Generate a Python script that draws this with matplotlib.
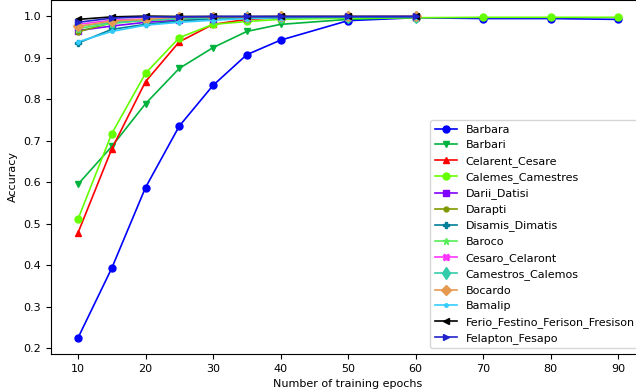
import matplotlib
matplotlib.use('Agg')
import matplotlib.pyplot as plt

plt.rcParams['font.size'] = 8

epochs_full = [10, 15, 20, 25, 30, 35, 40, 50, 60, 70, 80, 90]
epochs_short = [10, 15, 20, 25, 30, 35, 40, 50, 60]

barbara = [0.225, 0.393, 0.587, 0.735, 0.833, 0.907, 0.942, 0.989, 0.996, 0.994, 0.994, 0.992]
barbari = [0.595, 0.686, 0.789, 0.874, 0.924, 0.963, 0.980, 0.992, 0.997]
celarent_cesare = [0.478, 0.680, 0.842, 0.938, 0.980, 0.992, 0.996, 0.997, 0.998]
calemes_camestres = [0.511, 0.717, 0.862, 0.948, 0.980, 0.987, 0.992, 0.995, 0.996, 0.997, 0.997, 0.997]
darii_datisi = [0.965, 0.976, 0.985, 0.990, 0.994, 0.996, 0.997, 0.998, 0.998]
darapti = [0.962, 0.984, 0.990, 0.993, 0.995, 0.996, 0.997, 0.998, 0.998]
disamis_dimatis = [0.935, 0.968, 0.980, 0.988, 0.994, 0.996, 0.997, 0.998, 0.998]
baroco = [0.970, 0.982, 0.990, 0.994, 0.996, 0.997, 0.998, 0.998, 0.998]
cesaro_celaront = [0.980, 0.990, 0.993, 0.996, 0.997, 0.998, 0.998, 0.998, 0.999]
camestros_calemos = [0.975, 0.985, 0.990, 0.994, 0.996, 0.997, 0.998, 0.998, 0.998]
bocardo = [0.975, 0.988, 0.992, 0.998, 0.998, 0.998, 0.999, 0.999, 0.999]
bamalip = [0.938, 0.963, 0.978, 0.985, 0.990, 0.994, 0.996, 0.997, 0.998]
ferio = [0.992, 0.998, 1.000, 0.999, 0.999, 0.999, 0.999, 0.999, 0.999]
felapton = [0.985, 0.995, 0.998, 0.998, 0.999, 0.999, 0.999, 0.999, 0.999]

series = [
    ('Barbara', epochs_full, barbara, 'blue', 'o', 5),
    ('Barbari', epochs_short, barbari, '#00b33c', 'v', 5),
    ('Celarent_Cesare', epochs_short, celarent_cesare, 'red', '^', 5),
    ('Calemes_Camestres', epochs_full, calemes_camestres, '#66ff00', 'o', 5),
    ('Darii_Datisi', epochs_short, darii_datisi, '#8000ff', 's', 5),
    ('Darapti', epochs_short, darapti, '#809900', 'o', 3.5),
    ('Disamis_Dimatis', epochs_short, disamis_dimatis, '#007f99', 'P', 5),
    ('Baroco', epochs_short, baroco, '#55ee55', '*', 4.5),
    ('Cesaro_Celaront', epochs_short, cesaro_celaront, '#ff33ff', 'X', 5),
    ('Camestros_Calemos', epochs_short, camestros_calemos, '#33ccaa', 'd', 6),
    ('Bocardo', epochs_short, bocardo, '#e69a50', 'D', 5),
    ('Bamalip', epochs_short, bamalip, '#33ccff', '.', 5),
    ('Ferio_Festino_Ferison_Fresison', epochs_short, ferio, 'black', '<', 5),
    ('Felapton_Fesapo', epochs_short, felapton, '#2222cc', '>', 5),
]

fig = plt.figure(figsize=(6.36, 3.90), dpi=100)
# the original figure was cropped on the right and top
ax = fig.add_axes([51 / 636, 36 / 390, 594 / 636, 354 / 390])

for name, xs, ys, col, mk, ms in series:
    ax.plot(xs, ys, color=col, marker=mk, markersize=ms, linewidth=1.2, label=name)

ax.set_xticks([10, 20, 30, 40, 50, 60, 70, 80, 90])
ax.set_xlim(6, 94)
ax.set_ylim(0.1863, 1.0387)
ax.set_xlabel('Number of training epochs')
ax.set_ylabel('Accuracy')
ax.legend(loc='lower right', numpoints=1)

plt.savefig('out.png', dpi=100)
